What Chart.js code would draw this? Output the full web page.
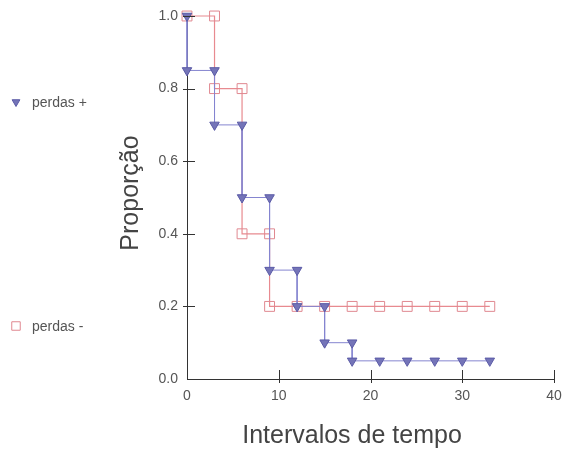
<!DOCTYPE html>
<html>
<head>
<meta charset="utf-8">
<script src="https://cdn.jsdelivr.net/npm/chart.js@4"></script>
<style>
  html, body { margin: 0; padding: 0; background: #fff; }
  #wrap { width: 563px; height: 450px; position: relative; }
</style>
</head>
<body>
<div id="wrap"><canvas id="chart"></canvas></div>
<script>
// perdas + (curva em degraus)
const plusX = [0, 0, 3, 3, 6, 6, 9, 9, 12, 12, 15, 15, 18, 18, 21, 24, 27, 30, 33];
const plusY = [1.0, 0.85, 0.85, 0.7, 0.7, 0.5, 0.5, 0.3, 0.3, 0.2, 0.2, 0.1, 0.1, 0.05, 0.05, 0.05, 0.05, 0.05, 0.05];
// perdas -
const minusX = [0, 3, 3, 6, 6, 9, 9, 12, 15, 18, 21, 24, 27, 30, 33];
const minusY = [1.0, 1.0, 0.8, 0.8, 0.4, 0.4, 0.2, 0.2, 0.2, 0.2, 0.2, 0.2, 0.2, 0.2, 0.2];

const xTicks = [10, 20, 30, 40];
const yTicks = [0.2, 0.4, 0.6, 0.8, 1.0];

const labels = ['perdas +', 'perdas -'];
const xTitle = 'Intervalos de tempo';
const yTitle = 'Proporção';

const FONT = '"Liberation Sans", Arial, sans-serif';

const toPoints = (xs, ys) => xs.map((x, i) => ({ x: x, y: ys[i] }));

// marcas de escala cruzando os eixos, títulos e legenda à esquerda
const extras = {
    id: 'extras',
    afterDraw(chart) {
        const c = chart.ctx;
        const xs = chart.scales.x, ys = chart.scales.y;
        c.save();
        c.strokeStyle = '#333';
        c.lineWidth = 1;
        yTicks.forEach(v => {
            const py = Math.round(ys.getPixelForValue(v)) + 0.5;
            c.beginPath();
            c.moveTo(xs.left - 4, py);
            c.lineTo(xs.left + 8, py);
            c.stroke();
        });
        xTicks.forEach(v => {
            const px = Math.round(xs.getPixelForValue(v)) + 0.5;
            c.beginPath();
            c.moveTo(px, ys.bottom - 9);
            c.lineTo(px, ys.bottom + 4);
            c.stroke();
        });

        // títulos dos eixos
        c.fillStyle = '#444';
        c.font = '25px ' + FONT;
        c.textAlign = 'center';
        c.textBaseline = 'alphabetic';
        c.fillText(xTitle, 352, 443);
        c.save();
        c.translate(138, 193);
        c.rotate(-Math.PI / 2);
        c.fillText(yTitle, 0, 0);
        c.restore();

        // legenda
        const items = [
            { y: 102, ds: chart.data.datasets[0] },
            { y: 326, ds: chart.data.datasets[1] }
        ];
        items.forEach(it => {
            c.fillStyle = it.ds.pointBackgroundColor;
            c.strokeStyle = it.ds.pointBorderColor;
            c.lineWidth = 1;
            Chart.helpers.drawPoint(c, {
                pointStyle: it.ds.pointStyle,
                rotation: it.ds.pointRotation,
                radius: it.ds.pointStyle === 'rect' ? 6 : 4.5,
                borderWidth: 1
            }, 16, it.y);
            c.fillStyle = '#555';
            c.font = '14px ' + FONT;
            c.textBaseline = 'middle';
            c.textAlign = 'left';
            c.fillText(it.ds.label, 32, it.y + 1);
        });
        c.restore();
    }
};

const ctx = document.getElementById('chart').getContext('2d');
new Chart(ctx, {
    type: 'scatter',
    data: {
        datasets: [{
            label: labels[0],
            data: toPoints(plusX, plusY),
            showLine: true,
            clip: false,
            borderColor: '#8585d0',
            borderWidth: 1,
            pointStyle: 'triangle',
            pointRotation: 180,
            pointRadius: 5.5,
            pointBackgroundColor: '#7474b8',
            pointBorderColor: '#5a5aa6',
            pointBorderWidth: 1
        }, {
            label: labels[1],
            data: toPoints(minusX, minusY),
            showLine: true,
            clip: false,
            borderColor: '#e88a90',
            borderWidth: 1.2,
            pointStyle: 'rect',
            pointRadius: 7,
            pointBackgroundColor: 'rgba(255,255,255,0)',
            pointBorderColor: '#e08890',
            pointBorderWidth: 1
        }]
    },
    options: {
        responsive: true,
        maintainAspectRatio: false,
        animation: false,
        layout: { padding: { left: 115, top: 16, right: 9, bottom: 0 } },
        plugins: {
            legend: { display: false },
            tooltip: { enabled: false }
        },
        scales: {
            x: {
                type: 'linear',
                min: 0,
                max: 40,
                afterFit: s => {
                    s.height = 71;
                    s.paddingLeft = 0;
                    s.paddingRight = 0;
                },
                ticks: {
                    stepSize: 10,
                    color: '#555',
                    padding: 9,
                    font: { size: 14, family: FONT }
                },
                grid: { display: false, drawTicks: false, tickLength: 0 },
                border: { display: true, color: '#333', width: 1 }
            },
            y: {
                min: 0,
                max: 1.0,
                afterFit: s => {
                    s.width = 72;
                    s.paddingTop = 0;
                    s.paddingBottom = 0;
                },
                ticks: {
                    stepSize: 0.2,
                    color: '#555',
                    padding: 9,
                    callback: v => v.toFixed(1),
                    font: { size: 14, family: FONT }
                },
                grid: { display: false, drawTicks: false, tickLength: 0 },
                border: { display: true, color: '#333', width: 1 }
            }
        }
    },
    plugins: [extras]
});
</script>
</body>
</html>
